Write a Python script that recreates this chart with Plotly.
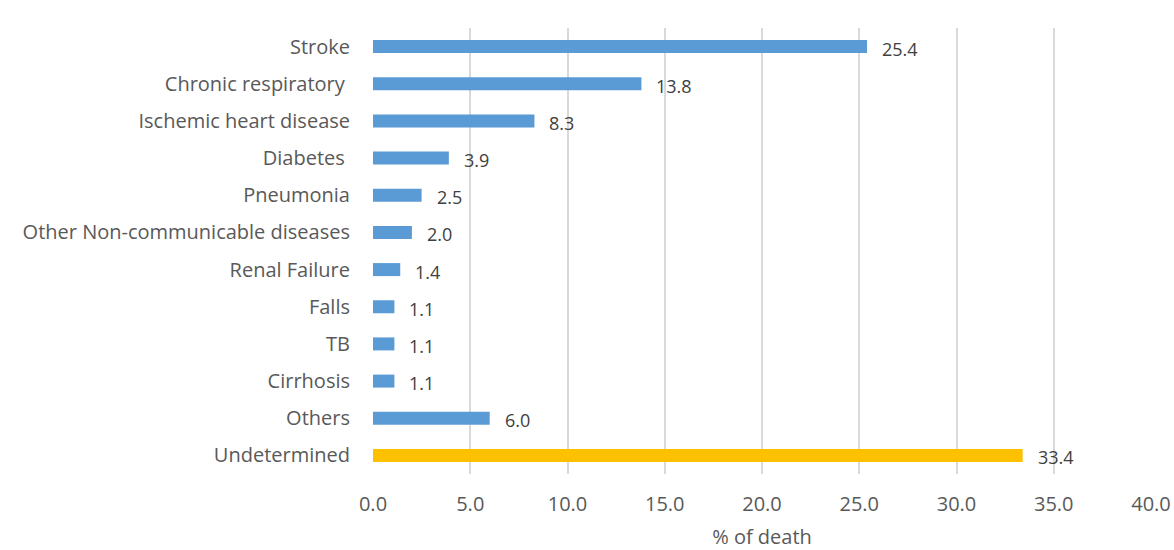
import plotly.graph_objects as go

# Causes of death and share of deaths (%)
causes = [
    "Stroke",
    "Chronic respiratory ",
    "Ischemic heart disease",
    "Diabetes ",
    "Pneumonia",
    "Other Non-communicable diseases",
    "Renal Failure",
    "Falls",
    "TB",
    "Cirrhosis",
    "Others",
    "Undetermined",
]
share = [25.4, 13.8, 8.3, 3.9, 2.5, 2.0, 1.4, 1.1, 1.1, 1.1, 6.0, 33.4]
value_labels = ["25.4", "13.8", "8.3", "3.9", "2.5", "2.0", "1.4", "1.1", "1.1", "1.1", "6.0", "33.4"]
x_ticks = [0, 5, 10, 15, 20, 25, 30, 35, 40]
x_tick_labels = ["0.0", "5.0", "10.0", "15.0", "20.0", "25.0", "30.0", "35.0", "40.0"]

BLUE = "#5B9BD5"
GOLD = "#FFC000"
FONT = "Open Sans, Noto Sans, sans-serif"
colors = [GOLD if c == "Undetermined" else BLUE for c in causes]

fig = go.Figure(
    go.Bar(
        x=share,
        y=causes,
        orientation="h",
        marker=dict(color=colors, line=dict(width=0)),
        width=0.35,
        hoverinfo="x+y",
    )
)

# value labels to the right of each bar
for c, v, t in zip(causes, share, value_labels):
    fig.add_annotation(
        x=v, y=c, text=t, showarrow=False,
        xanchor="left", yanchor="middle", xshift=13, yshift=-2,
        font=dict(family=FONT, size=18, color="#404040"),
    )

fig.update_layout(
    width=1174,
    height=550,
    margin=dict(l=373, r=23, t=28, b=76),
    paper_bgcolor="white",
    plot_bgcolor="white",
    showlegend=False,
    bargap=0.65,
    font=dict(family=FONT, color="#595959"),
)

fig.update_xaxes(
    range=[0, 40],
    tickvals=x_ticks,
    ticktext=x_tick_labels,
    automargin=False,
    showgrid=True,
    gridcolor="#D9D9D9",
    gridwidth=1.5,
    zeroline=False,
    showline=False,
    ticks="outside",
    ticklen=12,
    tickcolor="rgba(0,0,0,0)",
    tickfont=dict(size=20, color="#595959"),
    title=dict(text="% of death", font=dict(size=20, color="#595959"), standoff=16),
)

fig.update_yaxes(
    categoryorder="array",
    categoryarray=causes,
    autorange="reversed",
    automargin=False,
    showgrid=False,
    zeroline=False,
    showline=False,
    ticks="outside",
    ticklen=18,
    tickcolor="rgba(0,0,0,0)",
    tickfont=dict(size=20, color="#595959"),
)

fig.write_html("out.html")
